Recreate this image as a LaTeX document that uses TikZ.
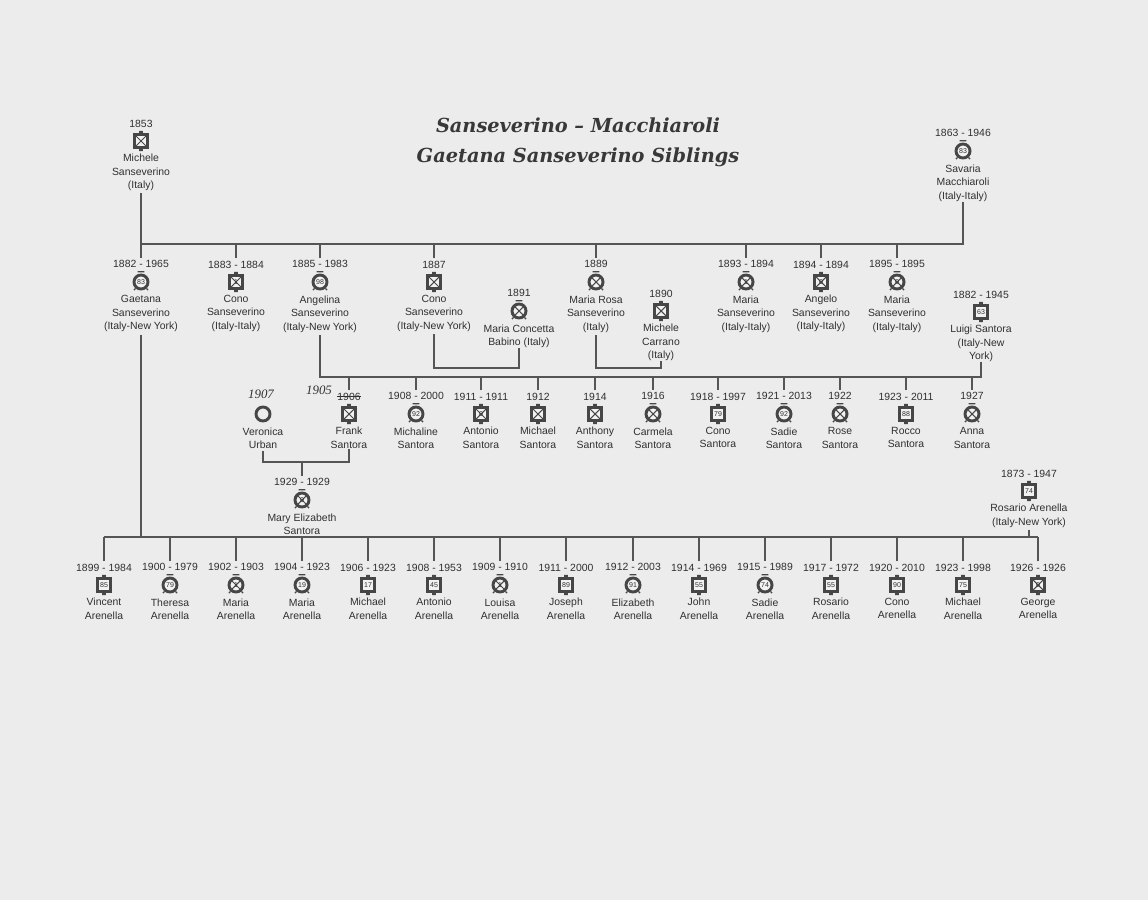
\documentclass[tikz,border=0pt]{standalone}
\usepackage{fontspec}
\setmainfont{Liberation Sans}
\newfontfamily\titlefont{DejaVu Serif}
\newfontfamily\handfont{Liberation Serif}
\usepackage{xcolor}
\usepackage{tikz}
\usetikzlibrary{positioning}

\definecolor{paper}{HTML}{ECECEC}
\definecolor{linegray}{HTML}{555555}
\definecolor{symgray}{HTML}{464646}
\definecolor{symwhite}{HTML}{F2F2F2}
\definecolor{ink}{HTML}{303030}
\definecolor{titlegray}{HTML}{383838}

% one person: symbol, year above it, name below it
\newcommand\indiv[6]{%
  \node[#4] (#1) at (#2) {#5};
  \node[yr, above=4.6pt of #1] (#1-y) {#3};
  \node[nm, below=4.2pt of #1] (#1-n) {#6};
}

\begin{document}
\begin{tikzpicture}[
    x=0.03cm, y=-0.03cm,
    yr/.style={inner sep=0pt, text=ink, font=\fontsize{8.9}{11.5}\selectfont},
    nm/.style={yr, align=center},
    sym/.style={inner sep=0pt, text=ink, font=\fontsize{6}{6}\selectfont},
    msym/.style={sym, rectangle, fill=symgray, minimum size=0.47cm,
        append after command={\pgfextra{\fill[symgray]
            ([xshift=-1.6pt]\tikzlastnode.north) rectangle ([xshift=1.6pt,yshift=1.8pt]\tikzlastnode.north)
            ([xshift=-1.6pt]\tikzlastnode.south) rectangle ([xshift=1.6pt,yshift=-1.8pt]\tikzlastnode.south);}}},
    male/.style={msym, path picture={\fill[symwhite]
        ([shift={(2.2pt,2.2pt)}]path picture bounding box.south west) rectangle
        ([shift={(-2.2pt,-2.2pt)}]path picture bounding box.north east);}},
    maleX/.style={msym, path picture={\fill[symwhite]
        ([shift={(2.2pt,2.2pt)}]path picture bounding box.south west) rectangle
        ([shift={(-2.2pt,-2.2pt)}]path picture bounding box.north east);
        \draw[symgray, line width=0.9pt]
        ([shift={(2.2pt,2.2pt)}]path picture bounding box.south west) --
        ([shift={(-2.2pt,-2.2pt)}]path picture bounding box.north east)
        ([shift={(2.2pt,-2.2pt)}]path picture bounding box.north west) --
        ([shift={(-2.2pt,2.2pt)}]path picture bounding box.south east);}},
    fsym/.style={sym, circle, draw=symgray, line width=2.5pt, fill=symwhite, minimum size=0.42cm,
        append after command={\pgfextra{\draw[symgray, line width=1.1pt]
            ([xshift=-2.8pt,yshift=1.5pt]\tikzlastnode.north) -- ([xshift=2.8pt,yshift=1.5pt]\tikzlastnode.north)
            (\tikzlastnode.-130) -- ([shift={(-1.4pt,-1.4pt)}]\tikzlastnode.-130)
            (\tikzlastnode.-50) -- ([shift={(1.4pt,-1.4pt)}]\tikzlastnode.-50);}}},
    female/.style={fsym},
    femaleX/.style={fsym, path picture={\draw[symgray, line width=0.9pt]
        (path picture bounding box.south west) -- (path picture bounding box.north east)
        (path picture bounding box.north west) -- (path picture bounding box.south east);}},
    spouse/.style={sym, circle, draw=symgray, line width=2.5pt, minimum size=0.42cm},
    link/.style={draw=linegray, line width=2pt},
    drop/.style={link, shorten <=2pt},
    title/.style={font=\titlefont\bfseries\itshape\fontsize{16.5}{25.6}\selectfont, text=titlegray, align=center},
    hand/.style={font=\handfont\itshape\fontsize{11}{11}\selectfont, text=ink}
]
\fill[paper] (0,0) rectangle (1148,900);

\node[title] (title) at (578,142) {Sanseverino – Macchiaroli\\Gaetana Sanseverino Siblings};

% parents
\indiv{michele}{141,141}{1853}{maleX}{}{Michele\\Sanseverino\\(Italy)}
\indiv{savaria}{963,151}{1863 - 1946}{female}{83}{Savaria\\Macchiaroli\\(Italy-Italy)}

% siblings
\indiv{gaetana}{141,282}{1882 - 1965}{female}{83}{Gaetana\\Sanseverino\\(Italy-New York)}
\indiv{cono}{236,282}{1883 - 1884}{maleX}{1}{Cono\\Sanseverino\\(Italy-Italy)}
\indiv{angelina}{320,282}{1885 - 1983}{female}{98}{Angelina\\Sanseverino\\(Italy-New York)}
\indiv{conob}{434,282}{1887}{maleX}{}{Cono\\Sanseverino\\(Italy-New York)}
\indiv{concetta}{519,311}{1891}{femaleX}{}{Maria Concetta\\Babino (Italy)}
\indiv{mariarosa}{596,282}{1889}{femaleX}{}{Maria Rosa\\Sanseverino\\(Italy)}
\indiv{carrano}{661,311}{1890}{maleX}{}{Michele\\Carrano\\(Italy)}
\indiv{mariaa}{746,282}{1893 - 1894}{femaleX}{1}{Maria\\Sanseverino\\(Italy-Italy)}
\indiv{angelo}{821,282}{1894 - 1894}{maleX}{0}{Angelo\\Sanseverino\\(Italy-Italy)}
\indiv{mariab}{897,282}{1895 - 1895}{femaleX}{0}{Maria\\Sanseverino\\(Italy-Italy)}
\indiv{luigi}{981,312}{1882 - 1945}{male}{63}{Luigi Santora\\(Italy-New\\York)}

% Santora children
\indiv{veronica}{263,414}{}{spouse}{}{Veronica\\Urban}
\indiv{frank}{349,414}{1906}{maleX}{}{Frank\\Santora}
\indiv{michaline}{416,414}{1908 - 2000}{female}{92}{Michaline\\Santora}
\indiv{antonio}{481,414}{1911 - 1911}{maleX}{0}{Antonio\\Santora}
\indiv{michael}{538,414}{1912}{maleX}{}{Michael\\Santora}
\indiv{anthony}{595,414}{1914}{maleX}{}{Anthony\\Santora}
\indiv{carmela}{653,414}{1916}{femaleX}{}{Carmela\\Santora}
\indiv{conoc}{718,414}{1918 - 1997}{male}{79}{Cono\\Santora}
\indiv{sadie}{784,414}{1921 - 2013}{female}{92}{Sadie\\Santora}
\indiv{rose}{840,414}{1922}{femaleX}{}{Rose\\Santora}
\indiv{rocco}{906,414}{1923 - 2011}{male}{88}{Rocco\\Santora}
\indiv{anna}{972,414}{1927}{femaleX}{}{Anna\\Santora}
\indiv{mary}{302,500}{1929 - 1929}{femaleX}{0}{Mary Elizabeth\\Santora}
\indiv{rosario}{1029,491}{1873 - 1947}{male}{74}{Rosario Arenella\\(Italy-New York)}

% Arenella children
\indiv{vincent}{104,585}{1899 - 1984}{male}{85}{Vincent\\Arenella}
\indiv{theresa}{170,585}{1900 - 1979}{female}{79}{Theresa\\Arenella}
\indiv{mariac}{236,585}{1902 - 1903}{femaleX}{1}{Maria\\Arenella}
\indiv{mariad}{302,585}{1904 - 1923}{female}{19}{Maria\\Arenella}
\indiv{michaelb}{368,585}{1906 - 1923}{male}{17}{Michael\\Arenella}
\indiv{antoniob}{434,585}{1908 - 1953}{male}{45}{Antonio\\Arenella}
\indiv{louisa}{500,585}{1909 - 1910}{femaleX}{1}{Louisa\\Arenella}
\indiv{joseph}{566,585}{1911 - 2000}{male}{89}{Joseph\\Arenella}
\indiv{elizabeth}{633,585}{1912 - 2003}{female}{91}{Elizabeth\\Arenella}
\indiv{john}{699,585}{1914 - 1969}{male}{55}{John\\Arenella}
\indiv{sadieb}{765,585}{1915 - 1989}{female}{74}{Sadie\\Arenella}
\indiv{rosariob}{831,585}{1917 - 1972}{male}{55}{Rosario\\Arenella}
\indiv{conod}{897,585}{1920 - 2010}{male}{90}{Cono\\Arenella}
\indiv{michaelc}{963,585}{1923 - 1998}{male}{75}{Michael\\Arenella}
\indiv{george}{1038,585}{1926 - 1926}{maleX}{0}{George\\Arenella}

% handwritten notes
\node[hand] (note1) at (261,394) {1907};
\node[hand] (note2) at (319,390) {1905};
\draw[ink, line width=0.6pt] (frank-y.west) -- (frank-y.east);

% bars
\coordinate (sbar) at (0,244);
\coordinate (cbar) at (0,368);
\coordinate (tbar) at (0,377);
\coordinate (ubar) at (0,462);
\coordinate (abar) at (0,537);

\draw[drop] (michele-n.south) -- (michele-n.south |- sbar) -| (savaria-n.south);
\foreach \p in {gaetana,cono,angelina,conob,mariarosa,mariaa,angelo,mariab}
    \draw[drop] (\p-y.north) -- (\p-y.north |- sbar);
\draw[drop] (conob-n.south) -- (conob-n.south |- cbar) -| (concetta-n.south);
\draw[drop] (mariarosa-n.south) -- (mariarosa-n.south |- cbar) -| (carrano-n.south);
\draw[drop] (angelina-n.south) -- (angelina-n.south |- tbar) -| (luigi-n.south);
\foreach \p in {frank,michaline,antonio,michael,anthony,carmela,conoc,sadie,rose,rocco,anna}
    \draw[drop] (\p-y.north) -- (\p-y.north |- tbar);
\draw[drop] (veronica-n.south) -- (veronica-n.south |- ubar) -| (frank-n.south);
\draw[drop] (mary-y.north) -- (mary-y.north |- ubar);
\draw[drop] (gaetana-n.south) -- (gaetana-n.south |- abar);
\draw[drop] (rosario-n.south) -- (rosario-n.south |- abar);
\draw[link] (vincent-y.north |- abar) -- (george-y.north |- abar);
\foreach \p in {vincent,theresa,mariac,mariad,michaelb,antoniob,louisa,joseph,elizabeth,john,sadieb,rosariob,conod,michaelc,george}
    \draw[drop] (\p-y.north) -- (\p-y.north |- abar);
\end{tikzpicture}
\end{document}
